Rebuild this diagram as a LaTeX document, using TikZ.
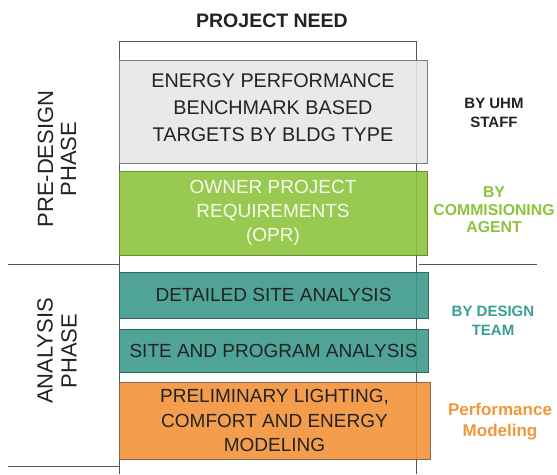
\documentclass[tikz,border=0pt]{standalone}
\usepackage{fontspec}
\setmainfont{Liberation Sans}
\usepackage{tikz}
\usetikzlibrary{positioning}
\definecolor{rulegrey}{RGB}{85,85,85}
\definecolor{benchgrey}{RGB}{231,231,233}
\definecolor{benchedge}{RGB}{125,125,128}
\definecolor{oprgreen}{RGB}{141,196,62}
\definecolor{opredge}{RGB}{105,140,50}
\definecolor{siteteal}{RGB}{62,155,140}
\definecolor{siteedge}{RGB}{50,105,98}
\definecolor{modorange}{RGB}{243,148,58}
\definecolor{modedge}{RGB}{140,100,70}
\definecolor{inktext}{RGB}{35,35,35}
\definecolor{labgreen}{RGB}{141,196,62}
\definecolor{labteal}{RGB}{55,160,148}
\definecolor{laborange}{RGB}{241,151,60}
\tikzset{
  base/.style={align=center, inner sep=0pt, text=inktext},
  box/.style={base, rectangle, line width=0.8pt, fill opacity=0.9, text opacity=1},
  bench/.style={box, draw=benchedge, fill=benchgrey},
  opr/.style={box, draw=opredge, fill=oprgreen, text=white!92!oprgreen, font=\fontsize{19}{24}\selectfont},
  site/.style={box, draw=siteedge, fill=siteteal, font=\fontsize{19}{24}\selectfont},
  model/.style={box, draw=modedge, fill=modorange, font=\fontsize{19}{24.5}\selectfont},
  phase/.style={base, rotate=90, font=\fontsize{22}{23}\selectfont},
  who/.style={base, font=\bfseries\fontsize{15}{19}\selectfont},
  rule/.style={draw=rulegrey, line width=0.8pt},
}
\begin{document}
\begin{tikzpicture}[x=1pt,y=-1pt]
  \useasboundingbox[fill=white] (0,0) rectangle (557,474);
  % column
  \draw[rule] (119,474) -- (119,41) -- (416,41) -- (416,474);
  \draw[rule] (8,264) -- (119,264);
  \draw[rule] (8,466) -- (119,466);
  \draw[rule] (419,264) -- (537,264);
  \node[base, font=\bfseries\fontsize{19.5}{22}\selectfont] (need) at (272,21) {PROJECT NEED};
  % steps
  \node[bench,minimum width=308pt,minimum height=103pt] (bench) at (273,111.5) {};
  \node[base, font=\fontsize{19.8}{27}\selectfont] (benchtext) at ([yshift=4pt]bench.center) {ENERGY PERFORMANCE\\BENCHMARK BASED\\TARGETS BY BLDG TYPE};
  \node[opr,minimum width=308pt,minimum height=84pt] (opr) at (273,213) {OWNER PROJECT\\REQUIREMENTS\\(OPR)};
  \node[site,minimum width=309pt,minimum height=46pt] (detail) at (273.5,295) {DETAILED SITE ANALYSIS};
  \node[site,minimum width=309pt,minimum height=43pt] (program) at (273.5,350.5) {SITE AND PROGRAM ANALYSIS};
  \node[model,minimum width=311pt,minimum height=77pt] (model) at (274.5,420.5) {PRELIMINARY LIGHTING,\\COMFORT AND ENERGY\\MODELING};
  % phases
  \node[phase] (pre) at (57,159) {PRE-DESIGN\\PHASE};
  \node[phase, font=\fontsize{22}{24}\selectfont] (ana) at (57,351) {ANALYSIS\\PHASE};
  % who
  \node[who] (uhm) at (494,113) {BY UHM\\STAFF};
  \node[who, text=labgreen, font=\bfseries\fontsize{15.8}{17.5}\selectfont] (cx) at (494,210) {BY\\COMMISIONING\\AGENT};
  \node[who, text=labteal] (team) at (493,321) {BY DESIGN\\TEAM};
  \node[who, text=laborange, font=\bfseries\fontsize{17}{21}\selectfont] (perf) at (500,422) {Performance\\Modeling};
\end{tikzpicture}
\end{document}
